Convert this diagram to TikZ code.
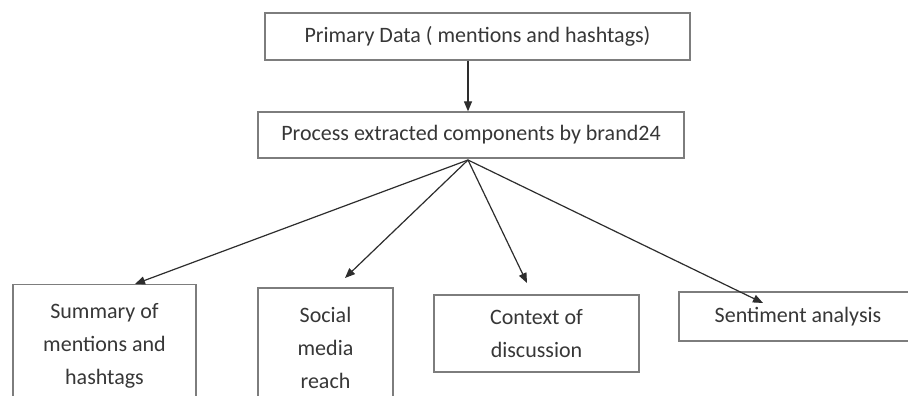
\documentclass[tikz,border=0pt]{standalone}
\usepackage{fontspec}
\setmainfont{Carlito}
\usepackage{xcolor}
\usetikzlibrary{positioning,arrows.meta}
\definecolor{edge}{RGB}{125,125,125}
\definecolor{ink}{RGB}{55,55,55}
\definecolor{wire}{RGB}{45,45,45}

\begin{document}
\begin{tikzpicture}[x=1pt,y=-1pt,
  b/.style={draw=edge,line width=1.3pt,fill=white,align=center,text=ink,
            font=\fontsize{22}{33}\selectfont,inner sep=0pt},
  a/.style={-{Triangle[length=10pt,width=8pt]},wire,line width=1.2pt}]
  \clip (0,0) rectangle (908,396);
  \fill[white] (0,0) rectangle (908,396);
  % top row
  \node[b,minimum width=425pt,minimum height=47pt] (prim) at (477.5,36.5) {Primary Data ( mentions and hashtags)};
  \node[b,minimum width=426pt,minimum height=46pt] (proc) at (471,135) {Process extracted components by brand24};
  % the four outputs
  \node[b,minimum width=183pt,minimum height=123pt] (summ) at (104.5,346) {Summary of\\mentions and\\hashtags};
  \node[b,minimum width=135pt,minimum height=120pt] (soc) at (325.5,348) {Social\\media\\reach};
  \node[b,minimum width=205pt,minimum height=77pt] (ctx) at (536.5,333.5) {Context of\\discussion};
  \node[b,minimum width=238pt,minimum height=49pt] (sent) at (798,316.5) {Sentiment analysis};
  % arrow ends
  \coordinate (fan) at (468,160);
  \coordinate (t1) at (135,284);
  \coordinate (t2) at (345,278);
  \coordinate (t3) at (527,283);
  \coordinate (t4) at (763,303);
  \draw[a] (prim.south -| fan) -- (proc.north -| fan);
  \draw[a] (fan)--(t1); \draw[a] (fan)--(t2); \draw[a] (fan)--(t3); \draw[a] (fan)--(t4);
\end{tikzpicture}
\end{document}
